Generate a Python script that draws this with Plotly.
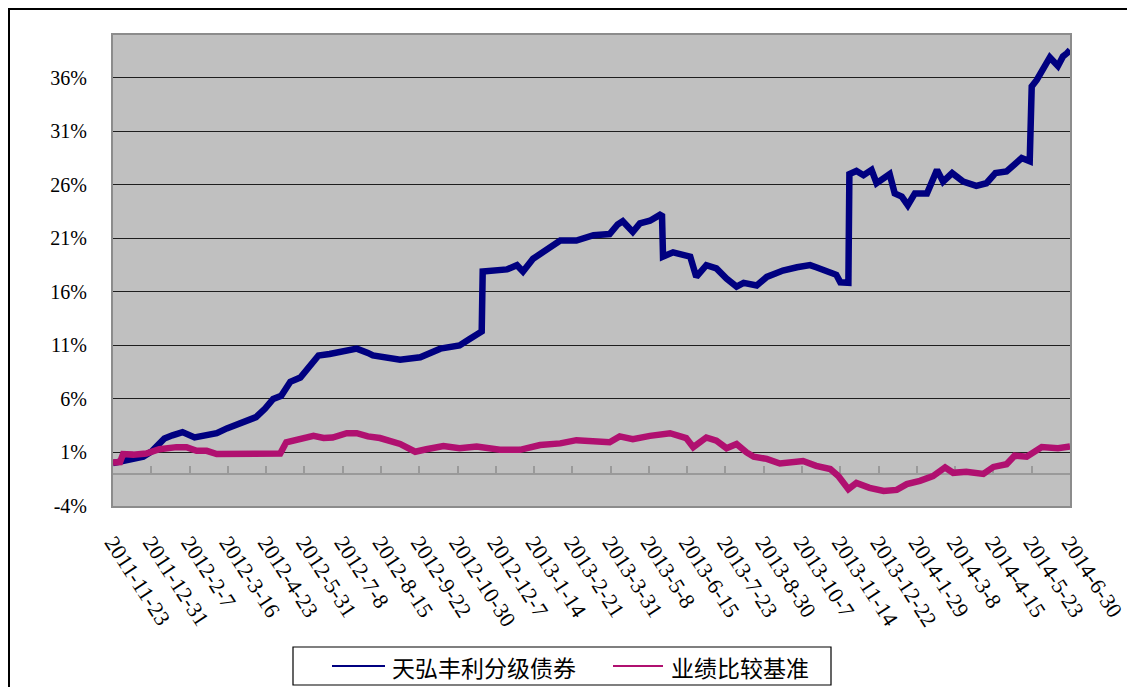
import plotly.graph_objects as go
import pandas as pd

# ---------------- data ----------------
series_names = ["天弘丰利分级债券", "业绩比较基准"]

fund_dates = [
    "2011-11-23", "2011-12-06", "2011-12-23", "2012-01-01", "2012-01-13", "2012-01-21",
    "2012-01-31", "2012-02-12", "2012-02-24", "2012-03-05", "2012-03-15", "2012-03-31",
    "2012-04-13", "2012-04-22", "2012-04-30", "2012-05-08", "2012-05-17", "2012-05-27",
    "2012-06-05", "2012-06-14", "2012-06-25", "2012-07-08", "2012-07-22", "2012-08-02",
    "2012-08-07", "2012-09-03", "2012-09-23", "2012-10-13", "2012-11-01", "2012-11-11",
    "2012-11-21", "2012-11-23", "2012-11-24", "2012-12-04", "2012-12-18", "2012-12-28",
    "2013-01-03", "2013-01-13", "2013-01-26", "2013-02-09", "2013-02-25", "2013-03-14",
    "2013-03-30", "2013-04-07", "2013-04-12", "2013-04-22", "2013-04-29", "2013-05-09",
    "2013-05-19", "2013-05-21", "2013-05-22", "2013-06-01", "2013-06-18", "2013-06-24",
    "2013-07-04", "2013-07-14", "2013-07-24", "2013-08-03", "2013-08-10", "2013-08-23",
    "2013-09-02", "2013-09-18", "2013-10-02", "2013-10-15", "2013-10-21", "2013-10-31",
    "2013-11-10", "2013-11-14", "2013-11-22", "2013-11-23", "2013-11-30", "2013-12-07",
    "2013-12-15", "2013-12-20", "2014-01-02", "2014-01-07", "2014-01-14", "2014-01-20",
    "2014-01-27", "2014-02-08", "2014-02-18", "2014-02-24", "2014-03-05", "2014-03-16",
    "2014-03-29", "2014-04-08", "2014-04-17", "2014-04-28", "2014-05-08", "2014-05-13",
    "2014-05-21", "2014-05-23", "2014-05-28", "2014-06-04", "2014-06-10", "2014-06-18",
    "2014-06-23", "2014-06-27", "2014-06-30",
]
fund_values = [
    0.0, 0.3, 0.6, 1.15, 2.3, 2.6,
    2.9, 2.4, 2.7, 2.8, 3.25, 3.8,
    4.3, 5.1, 6.0, 6.3, 7.6, 8.0,
    9.1, 10.06, 10.2, 10.5, 10.7, 10.3,
    10.06, 9.66, 9.9, 10.7, 11.0, 11.6,
    12.25, 12.3, 17.9, 18.0, 18.1, 18.5,
    17.9, 19.1, 19.9, 20.8, 20.8, 21.3,
    21.4, 22.3, 22.6, 21.6, 22.4, 22.65,
    23.2, 23.1, 19.3, 19.7, 19.3, 17.4,
    18.5, 18.2, 17.25, 16.5, 16.85, 16.6,
    17.4, 18.0, 18.3, 18.5, 18.3, 18.0,
    17.6, 16.9, 16.85, 27.0, 27.3, 26.9,
    27.4, 26.15, 27.0, 25.2, 24.9, 24.1,
    25.2, 25.2, 27.4, 26.3, 27.1, 26.3,
    25.9, 26.15, 27.1, 27.25, 28.0, 28.5,
    28.2, 35.2, 35.8, 37.1, 37.9, 37.1,
    38.0, 38.3, 38.6,
]

bench_dates = [
    "2011-11-23", "2011-11-30", "2011-12-03", "2011-12-13", "2011-12-26", "2012-01-08",
    "2012-01-25", "2012-02-04", "2012-02-14", "2012-02-24", "2012-03-05", "2012-03-25",
    "2012-04-13", "2012-05-07", "2012-05-13", "2012-05-27", "2012-06-09", "2012-06-19",
    "2012-06-28", "2012-07-12", "2012-07-22", "2012-08-02", "2012-08-14", "2012-09-03",
    "2012-09-18", "2012-09-29", "2012-10-16", "2012-11-01", "2012-11-18", "2012-12-11",
    "2012-12-31", "2013-01-20", "2013-02-09", "2013-02-25", "2013-03-14", "2013-03-30",
    "2013-04-09", "2013-04-22", "2013-05-09", "2013-05-29", "2013-06-14", "2013-06-21",
    "2013-07-04", "2013-07-14", "2013-07-24", "2013-08-03", "2013-08-13", "2013-08-20",
    "2013-09-02", "2013-09-15", "2013-10-08", "2013-10-21", "2013-11-04", "2013-11-12",
    "2013-11-22", "2013-11-30", "2013-12-13", "2013-12-27", "2014-01-09", "2014-01-19",
    "2014-02-01", "2014-02-14", "2014-02-26", "2014-03-06", "2014-03-19", "2014-04-05",
    "2014-04-15", "2014-04-28", "2014-05-06", "2014-05-18", "2014-06-02", "2014-06-18",
    "2014-06-30",
]
bench_values = [
    0.06, 0.1, 0.85, 0.8, 0.9, 1.3,
    1.5, 1.5, 1.15, 1.15, 0.85, 0.9,
    0.85, 0.9, 1.95, 2.25, 2.55, 2.35,
    2.4, 2.8, 2.8, 2.5, 2.35, 1.8,
    1.07, 1.3, 1.6, 1.4, 1.55, 1.25,
    1.25, 1.7, 1.85, 2.15, 2.0, 1.95,
    2.5, 2.25, 2.55, 2.8, 2.35, 1.5,
    2.4, 2.1, 1.4, 1.8, 1.0, 0.6,
    0.4, -0.03, 0.2, -0.25, -0.55, -1.2,
    -2.43, -1.85, -2.3, -2.6, -2.5, -1.96,
    -1.65, -1.2, -0.4, -0.9, -0.8, -1.0,
    -0.35, -0.1, 0.7, 0.6, 1.5, 1.4,
    1.55,
]

x_tick_labels = [
    "2011-11-23", "2011-12-31", "2012-2-7", "2012-3-16", "2012-4-23", "2012-5-31",
    "2012-7-8", "2012-8-15", "2012-9-22", "2012-10-30", "2012-12-7", "2013-1-14",
    "2013-2-21", "2013-3-31", "2013-5-8", "2013-6-15", "2013-7-23", "2013-8-30",
    "2013-10-7", "2013-11-14", "2013-12-22", "2014-1-29", "2014-3-8", "2014-4-15",
    "2014-5-23", "2014-6-30",
]
y_tick_values = [-4, 1, 6, 11, 16, 21, 26, 31, 36]
y_range = [-4, 40]
x_axis_cross = -1  # value where the category axis line sits

# ---------------- styling ----------------
PAGE_OFF = 8                      # default body margin of the html page
W, H = 1127, 679
ML, MT = 105, 27
PW, PH = 957, 471
MR, MB = W - ML - PW, H - MT - PH
FUND_COLOR = "#000080"
BENCH_COLOR = "#B01070"
LATIN_FONT = "Liberation Serif"
CJK_FONT = "Noto Sans CJK SC"


def px_x(p):
    """page pixel x -> paper fraction"""
    return (p - PAGE_OFF - ML) / PW


def px_y(p):
    """page pixel y -> paper fraction"""
    return (MT + PH - (p - PAGE_OFF)) / PH


tick_dates = pd.to_datetime(x_tick_labels)
x_range = [tick_dates[0], tick_dates[-1]]

fig = go.Figure()

fig.add_trace(go.Scatter(
    x=pd.to_datetime(fund_dates), y=fund_values, mode="lines",
    line=dict(color=FUND_COLOR, width=6.5), showlegend=False, name=series_names[0],
))
fig.add_trace(go.Scatter(
    x=pd.to_datetime(bench_dates), y=bench_values, mode="lines", xaxis="x2",
    line=dict(color=BENCH_COLOR, width=6.5), showlegend=False, name=series_names[1],
))

# legend box (drawn as in the original: long thin line samples)
legend_box = dict(x0=293, x1=831, y0=647, y1=685)
legend_items = [
    dict(name=series_names[0], color=FUND_COLOR, line_x=(332, 385), text_x=390),
    dict(name=series_names[1], color=BENCH_COLOR, line_x=(613, 663), text_x=669),
]
legend_mid = (legend_box["y0"] + legend_box["y1"]) / 2

shapes = [
    # outer chart frame
    dict(type="rect", xref="paper", yref="paper",
         x0=px_x(9), x1=px_x(1150), y0=px_y(700), y1=px_y(9),
         line=dict(color="black", width=2), fillcolor="rgba(0,0,0,0)", layer="below"),
    dict(type="rect", xref="paper", yref="paper",
         x0=px_x(legend_box["x0"]), x1=px_x(legend_box["x1"]),
         y0=px_y(legend_box["y1"]), y1=px_y(legend_box["y0"]),
         line=dict(color="black", width=1.2), fillcolor="white", layer="above"),
]
annotations = []
for it in legend_items:
    shapes.append(dict(type="line", xref="paper", yref="paper",
                       x0=px_x(it["line_x"][0]), x1=px_x(it["line_x"][1]),
                       y0=px_y(legend_mid), y1=px_y(legend_mid),
                       line=dict(color=it["color"], width=2.2), layer="above"))
    annotations.append(dict(text=it["name"], xref="paper", yref="paper",
                            x=px_x(it["text_x"]), y=px_y(legend_mid + 1),
                            xanchor="left", yanchor="middle", showarrow=False,
                            font=dict(family=CJK_FONT, size=23, color="black")))

fig.update_layout(
    width=W, height=H,
    margin=dict(l=ML, r=MR, t=MT, b=MB, pad=0, autoexpand=False),
    paper_bgcolor="white",
    plot_bgcolor="#C0C0C0",
    showlegend=False,
    xaxis=dict(
        type="date", range=x_range,
        tickmode="array", tickvals=tick_dates, ticktext=x_tick_labels,
        tickangle=57, ticks="", ticklabelstandoff=13,
        tickfont=dict(family=LATIN_FONT, size=22, color="black"),
        showgrid=False, zeroline=False,
        showline=True, mirror=True, linecolor="#8C8C8C", linewidth=2,
    ),
    xaxis2=dict(
        type="date", range=x_range, overlaying="x", anchor="free",
        position=(x_axis_cross - y_range[0]) / (y_range[1] - y_range[0]),
        side="bottom", layer="below traces",
        tickmode="array", tickvals=tick_dates, showticklabels=False,
        ticks="inside", ticklen=7, tickwidth=1.5, tickcolor="#9A9A9A",
        showline=True, linecolor="#9A9A9A", linewidth=2,
        showgrid=False, zeroline=False,
    ),
    yaxis=dict(
        range=y_range, tickmode="array", tickvals=y_tick_values,
        ticktext=[f"{v}%" for v in y_tick_values],
        ticks="", ticklabelstandoff=20,
        tickfont=dict(family=LATIN_FONT, size=20, color="black"),
        showgrid=True, gridcolor="#1E1E1E", gridwidth=1.2,
        zeroline=False,
        showline=True, mirror=True, linecolor="#8C8C8C", linewidth=2,
    ),
    shapes=shapes,
    annotations=annotations,
)

fig.write_html("out.html")
